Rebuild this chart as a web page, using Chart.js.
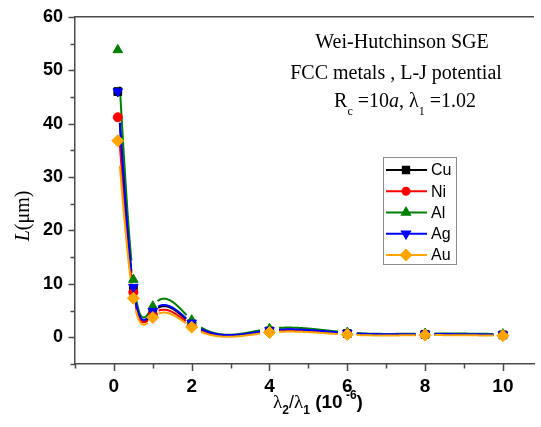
<!DOCTYPE html>
<html>
<head>
<meta charset="utf-8">
<script src="https://cdn.jsdelivr.net/npm/chart.js@4.4.1/dist/chart.umd.min.js"></script>
<style>
  html, body { margin: 0; padding: 0; background: #fff; overflow: hidden; }
  canvas { display: block; }
</style>
</head>
<body>
<canvas id="chart" width="541" height="427"></canvas>
<script>
// values
const xValues = [0.1, 0.5, 1, 2, 4, 6, 8, 10];
const cuValues = [46.0, 9.0, 4.6, 2.5, 1.2, 0.7, 0.55, 0.45];
const niValues = [41.2, 8.4, 4.2, 2.2, 1.1, 0.65, 0.5, 0.4];
const alValues = [53.8, 10.8, 5.8, 3.2, 1.6, 0.9, 0.7, 0.6];
const agValues = [46.0, 9.4, 4.9, 2.7, 1.3, 0.8, 0.6, 0.5];
const auValues = [36.8, 7.3, 3.7, 1.9, 0.9, 0.5, 0.4, 0.3];

const seriesNames = ['Cu', 'Ni', 'Al', 'Ag', 'Au'];
const seriesColors = ['#000000', '#ff0000', '#008000', '#0000ff', '#ffa500'];
const seriesStyles = ['rect', 'circle', 'triangle', 'triangle', 'rectRot'];
const seriesRotation = [0, 0, 0, 180, 0];
const seriesRadius = [5.5, 4.5, 5.5, 5.5, 6];

const xTicks = [-1, 0, 1, 2, 3, 4, 5, 6, 7, 8, 9, 10];
const xTickLabels = ['0', '2', '4', '6', '8', '10'];
const yTicks = [-5, 0, 5, 10, 15, 20, 25, 30, 35, 40, 45, 50, 55, 60];
const yTickLabels = ['0', '10', '20', '30', '40', '50', '60'];

const allValues = [cuValues, niValues, alValues, agValues, auValues];

const SANS = '"Liberation Sans", Arial, sans-serif';
const SERIF = '"Liberation Serif", "Times New Roman", serif';
const AXIS_COLOR = '#4a4a4a';

// natural cubic spline (second derivatives), like Origin's spline connection
function splineM(xs, ys) {
    const n = xs.length;
    const h = [], a = [], b = [], c = [], d = [];
    for (let i = 0; i < n - 1; i++) h.push(xs[i + 1] - xs[i]);
    const M = new Array(n).fill(0);
    const m = n - 2;
    for (let i = 1; i <= m; i++) {
        a.push(h[i - 1]);
        b.push(2 * (h[i - 1] + h[i]));
        c.push(h[i]);
        d.push(6 * ((ys[i + 1] - ys[i]) / h[i] - (ys[i] - ys[i - 1]) / h[i - 1]));
    }
    for (let i = 1; i < m; i++) {
        const w = a[i] / b[i - 1];
        b[i] -= w * c[i - 1];
        d[i] -= w * d[i - 1];
    }
    const sol = new Array(m).fill(0);
    for (let i = m - 1; i >= 0; i--) {
        sol[i] = (d[i] - (i < m - 1 ? c[i] * sol[i + 1] : 0)) / b[i];
    }
    for (let i = 0; i < m; i++) M[i + 1] = sol[i];
    return M;
}

function segmentOf(xs, x) {
    let i = 0;
    while (i < xs.length - 2 && x > xs[i + 1]) i++;
    return i;
}

function splineAt(xs, ys, M, x) {
    const i = segmentOf(xs, x);
    const h = xs[i + 1] - xs[i];
    const A = xs[i + 1] - x, B = x - xs[i];
    return M[i] * A * A * A / (6 * h) + M[i + 1] * B * B * B / (6 * h)
        + (ys[i] / h - M[i] * h / 6) * A + (ys[i + 1] / h - M[i + 1] * h / 6) * B;
}

const splineLines = {
    id: 'splineLines',
    beforeDatasetsDraw(chart) {
        const ctx = chart.ctx;
        const xs = chart.scales.x, ys = chart.scales.y;
        const area = chart.chartArea;
        ctx.save();
        ctx.beginPath();
        ctx.rect(area.left, area.top, area.right - area.left, area.bottom - area.top);
        ctx.clip();
        chart.data.datasets.forEach(ds => {
            const px = ds.data.map(p => xs.getPixelForValue(p.x));
            const py = ds.data.map(p => ys.getPixelForValue(p.y));
            const xv = ds.data.map(p => p.x), yv = ds.data.map(p => p.y);
            const M = splineM(xv, yv);
            ctx.strokeStyle = ds.borderColor;
            ctx.lineWidth = 2;
            ctx.lineJoin = 'round';
            ctx.beginPath();
            let drawing = false;
            const N = 1500;
            for (let s = 0; s <= N; s++) {
                const x = xv[0] + (xv[xv.length - 1] - xv[0]) * s / N;
                const X = xs.getPixelForValue(x);
                const Y = ys.getPixelForValue(splineAt(xv, yv, M, x));
                // gap to symbol: skip the piece next to each point
                const i = segmentOf(xv, x);
                const h = xv[i + 1] - xv[i];
                let near = (x - xv[i] < 0.12 * h) || (xv[i + 1] - x < 0.12 * h);
                for (let j = 0; j < px.length && !near; j++) {
                    if (Math.hypot(X - px[j], Y - py[j]) < 7) near = true;
                }
                if (near) { drawing = false; continue; }
                if (drawing) ctx.lineTo(X, Y); else { ctx.moveTo(X, Y); drawing = true; }
            }
            ctx.stroke();
        });
        ctx.restore();
    }
};

function drawRuns(ctx, runs, x, y, align) {
    let w = 0;
    runs.forEach(r => { ctx.font = r.f; w += ctx.measureText(r.t).width; });
    let cx = align === 'left' ? x : x - w / 2;
    ctx.textAlign = 'left';
    ctx.textBaseline = 'alphabetic';
    runs.forEach(r => {
        ctx.font = r.f;
        ctx.fillText(r.t, cx, y + (r.dy || 0));
        cx += ctx.measureText(r.t).width;
    });
}

function drawMarker(ctx, style, rotation, radius, x, y) {
    if (Chart.helpers && Chart.helpers.drawPoint) {
        Chart.helpers.drawPoint(ctx, { pointStyle: style, rotation: rotation, radius: radius, borderWidth: 1 }, x, y);
    }
}

const decorations = {
    id: 'decorations',
    afterDraw(chart) {
        const ctx = chart.ctx;
        const xs = chart.scales.x, ys = chart.scales.y;
        const area = chart.chartArea;
        ctx.save();

        // tick marks, top frame line
        ctx.strokeStyle = AXIS_COLOR;
        ctx.lineWidth = 1.5;
        ctx.beginPath();
        ctx.moveTo(area.left, area.top);
        ctx.lineTo(area.right, area.top);
        yTicks.forEach(v => {
            const Y = Math.round(ys.getPixelForValue(v)) + 0.5;
            const len = (v >= 0 && v % 10 === 0) ? 6.5 : 4.5;
            ctx.moveTo(area.left - len, Y);
            ctx.lineTo(area.left, Y);
        });
        xTicks.forEach(v => {
            const X = Math.round(xs.getPixelForValue(v)) + 0.5;
            const len = (v >= 0 && v % 2 === 0) ? 7 : 4.5;
            ctx.moveTo(X, area.bottom);
            ctx.lineTo(X, area.bottom + len);
        });
        ctx.stroke();

        // note text
        ctx.fillStyle = '#000';
        const f20 = '20px ' + SERIF, f12 = '12px ' + SERIF;
        drawRuns(ctx, [{ t: 'Wei-Hutchinson SGE', f: f20 }], 402, 48);
        drawRuns(ctx, [{ t: 'FCC metals , L-J potential', f: f20 }], 396, 79);
        drawRuns(ctx, [
            { t: 'R', f: f20 }, { t: 'c', f: f12, dy: 8 }, { t: ' =10', f: f20 },
            { t: 'a', f: 'italic ' + f20 }, { t: ', ', f: f20 }, { t: 'λ', f: f20 },
            { t: '1', f: f12, dy: 8 }, { t: ' =1.02', f: f20 }
        ], 405, 107);

        // axis titles
        drawRuns(ctx, [
            { t: 'λ', f: '19px ' + SERIF }, { t: '2', f: 'bold 12px ' + SANS, dy: 6 },
            { t: '/', f: '18px ' + SANS }, { t: 'λ', f: '19px ' + SERIF },
            { t: '1', f: 'bold 12px ' + SANS, dy: 6 }, { t: ' (10', f: 'bold 19px ' + SANS },
            { t: ' -6', f: 'bold 12px ' + SANS, dy: -9 }, { t: ')', f: 'bold 19px ' + SANS }
        ], 318, 408);
        ctx.save();
        ctx.translate(29, 216);
        ctx.rotate(-Math.PI / 2);
        drawRuns(ctx, [{ t: 'L', f: 'italic 20px ' + SERIF }, { t: '(μm)', f: '20px ' + SERIF }], 0, 0);
        ctx.restore();

        // legend box
        ctx.strokeStyle = '#8c8c8c';
        ctx.lineWidth = 1;
        ctx.strokeRect(383.5, 157.5, 73, 107);
        chart.data.datasets.forEach((ds, i) => {
            const Y = 170 + i * 21.25;
            ctx.strokeStyle = ds.borderColor;
            ctx.lineWidth = 2;
            ctx.beginPath();
            ctx.moveTo(386, Y);
            ctx.lineTo(427, Y);
            ctx.stroke();
            ctx.fillStyle = ds.backgroundColor;
            ctx.strokeStyle = ds.borderColor;
            drawMarker(ctx, ds.pointStyle, ds.pointRotation, ds.pointRadius - 1, 406, Y);
            ctx.fillStyle = '#000';
            ctx.font = '16px ' + SANS;
            ctx.textAlign = 'left';
            ctx.textBaseline = 'middle';
            ctx.fillText(ds.label, 431, Y + 1);
        });
        ctx.restore();
    }
};

const datasets = seriesNames.map((name, i) => ({
    label: name,
    data: xValues.map((x, j) => ({ x: x, y: allValues[i][j] })),
    showLine: false,
    borderColor: seriesColors[i],
    backgroundColor: seriesColors[i],
    pointStyle: seriesStyles[i],
    pointRotation: seriesRotation[i],
    pointRadius: seriesRadius[i],
    pointBorderWidth: 1,
    order: seriesNames.length - i
}));

new Chart(document.getElementById('chart').getContext('2d'), {
    type: 'scatter',
    data: { datasets: datasets },
    options: {
        responsive: false,
        animation: false,
        devicePixelRatio: 1,
        layout: { padding: { top: 15, right: 0, left: 0, bottom: 0 } },
        plugins: { legend: { display: false }, tooltip: { enabled: false } },
        scales: {
            x: {
                type: 'linear',
                min: -1,
                max: 10.8,
                afterBuildTicks: s => { s.ticks = xTicks.map(v => ({ value: v })); },
                afterFit: s => { s.height = 63; },
                ticks: {
                    autoSkip: false,
                    maxRotation: 0,
                    padding: 4,
                    color: '#000',
                    font: { family: SANS, size: 19, weight: 'bold' },
                    callback: v => (v >= 0 && v % 2 === 0) ? xTickLabels[v / 2] : ''
                },
                grid: { display: false, tickLength: 7 },
                border: { display: true, color: AXIS_COLOR, width: 1.5 }
            },
            y: {
                type: 'linear',
                min: -5,
                max: 60,
                afterBuildTicks: s => { s.ticks = yTicks.map(v => ({ value: v })); },
                afterFit: s => { s.width = 75; },
                ticks: {
                    autoSkip: false,
                    padding: 6,
                    color: '#000',
                    font: { family: SANS, size: 18, weight: 'bold' },
                    callback: v => (v >= 0 && v % 10 === 0) ? yTickLabels[v / 10] : ''
                },
                grid: { display: false, tickLength: 6 },
                border: { display: true, color: AXIS_COLOR, width: 1.5 }
            }
        }
    },
    plugins: [splineLines, decorations]
});
</script>
</body>
</html>
